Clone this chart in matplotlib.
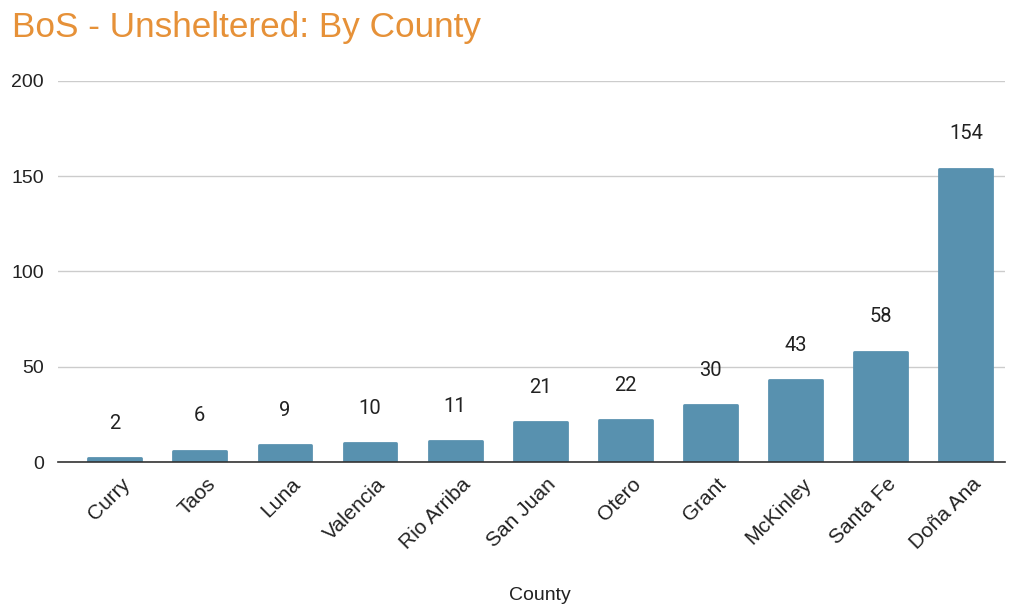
import matplotlib.pyplot as plt
import matplotlib.transforms as mtransforms

counties = ['Curry', 'Taos', 'Luna', 'Valencia', 'Rio Arriba', 'San Juan',
            'Otero', 'Grant', 'McKinley', 'Santa Fe', 'Doña Ana']
counts = [2, 6, 9, 10, 11, 21, 22, 30, 43, 58, 154]
yticks = [0, 50, 100, 150, 200]

plt.rcParams['font.family'] = ['Liberation Sans', 'DejaVu Sans']

fig = plt.figure(figsize=(10.13, 6.08), dpi=100)
ax = fig.add_axes([0.057, 0.24, 0.935, 0.627])

x = list(range(len(counties)))
# thin edge in the same colour with round joins -> slightly rounded corners
ax.bar(x, counts, width=0.62, color='#5891AF', edgecolor='#5891AF',
       linewidth=2, joinstyle='round', zorder=3)
# value labels (Roboto in the original)
for xi, v in zip(x, counts):
    ax.annotate(str(v), (xi, v), xytext=(0, 25), textcoords='offset points',
                ha='center', va='center', fontsize=14.5, color='#222222',
                family=['Roboto', 'DejaVu Sans'])

ax.set_xlim(-0.67, len(counties) - 0.54)
ax.set_ylim(0, 200)
ax.set_yticks(yticks)
ax.grid(axis='y', color='#cccccc', linewidth=1, zorder=0)
for s in ['top', 'right', 'left']:
    ax.spines[s].set_visible(False)
ax.spines['bottom'].set_color('#333333')
ax.spines['bottom'].set_linewidth(1.2)
ax.spines['bottom'].set_zorder(4)
ax.tick_params(axis='both', length=0, labelsize=14, colors='#222222')
ax.tick_params(axis='y', pad=10)
ax.set_xticks(x)
ax.set_xticklabels(counties, rotation=45, ha='right', rotation_mode='anchor',
                   fontsize=15)
ax.tick_params(axis='x', pad=9)
shift = mtransforms.ScaledTranslation(6 / 100, 0, fig.dpi_scale_trans)
for lbl in ax.get_xticklabels():
    lbl.set_transform(lbl.get_transform() + shift)

ax.set_xlabel('County', fontsize=14, color='#222222')
ax.xaxis.set_label_coords(0.509, -0.349)
ax.xaxis.label.set_va('center')

fig.text(12 / 1013, 1 - 37 / 608, 'BoS - Unsheltered: By County', fontsize=25.3,
         color='#E69138', ha='left', va='baseline')

fig.savefig('out.png', dpi=100)
